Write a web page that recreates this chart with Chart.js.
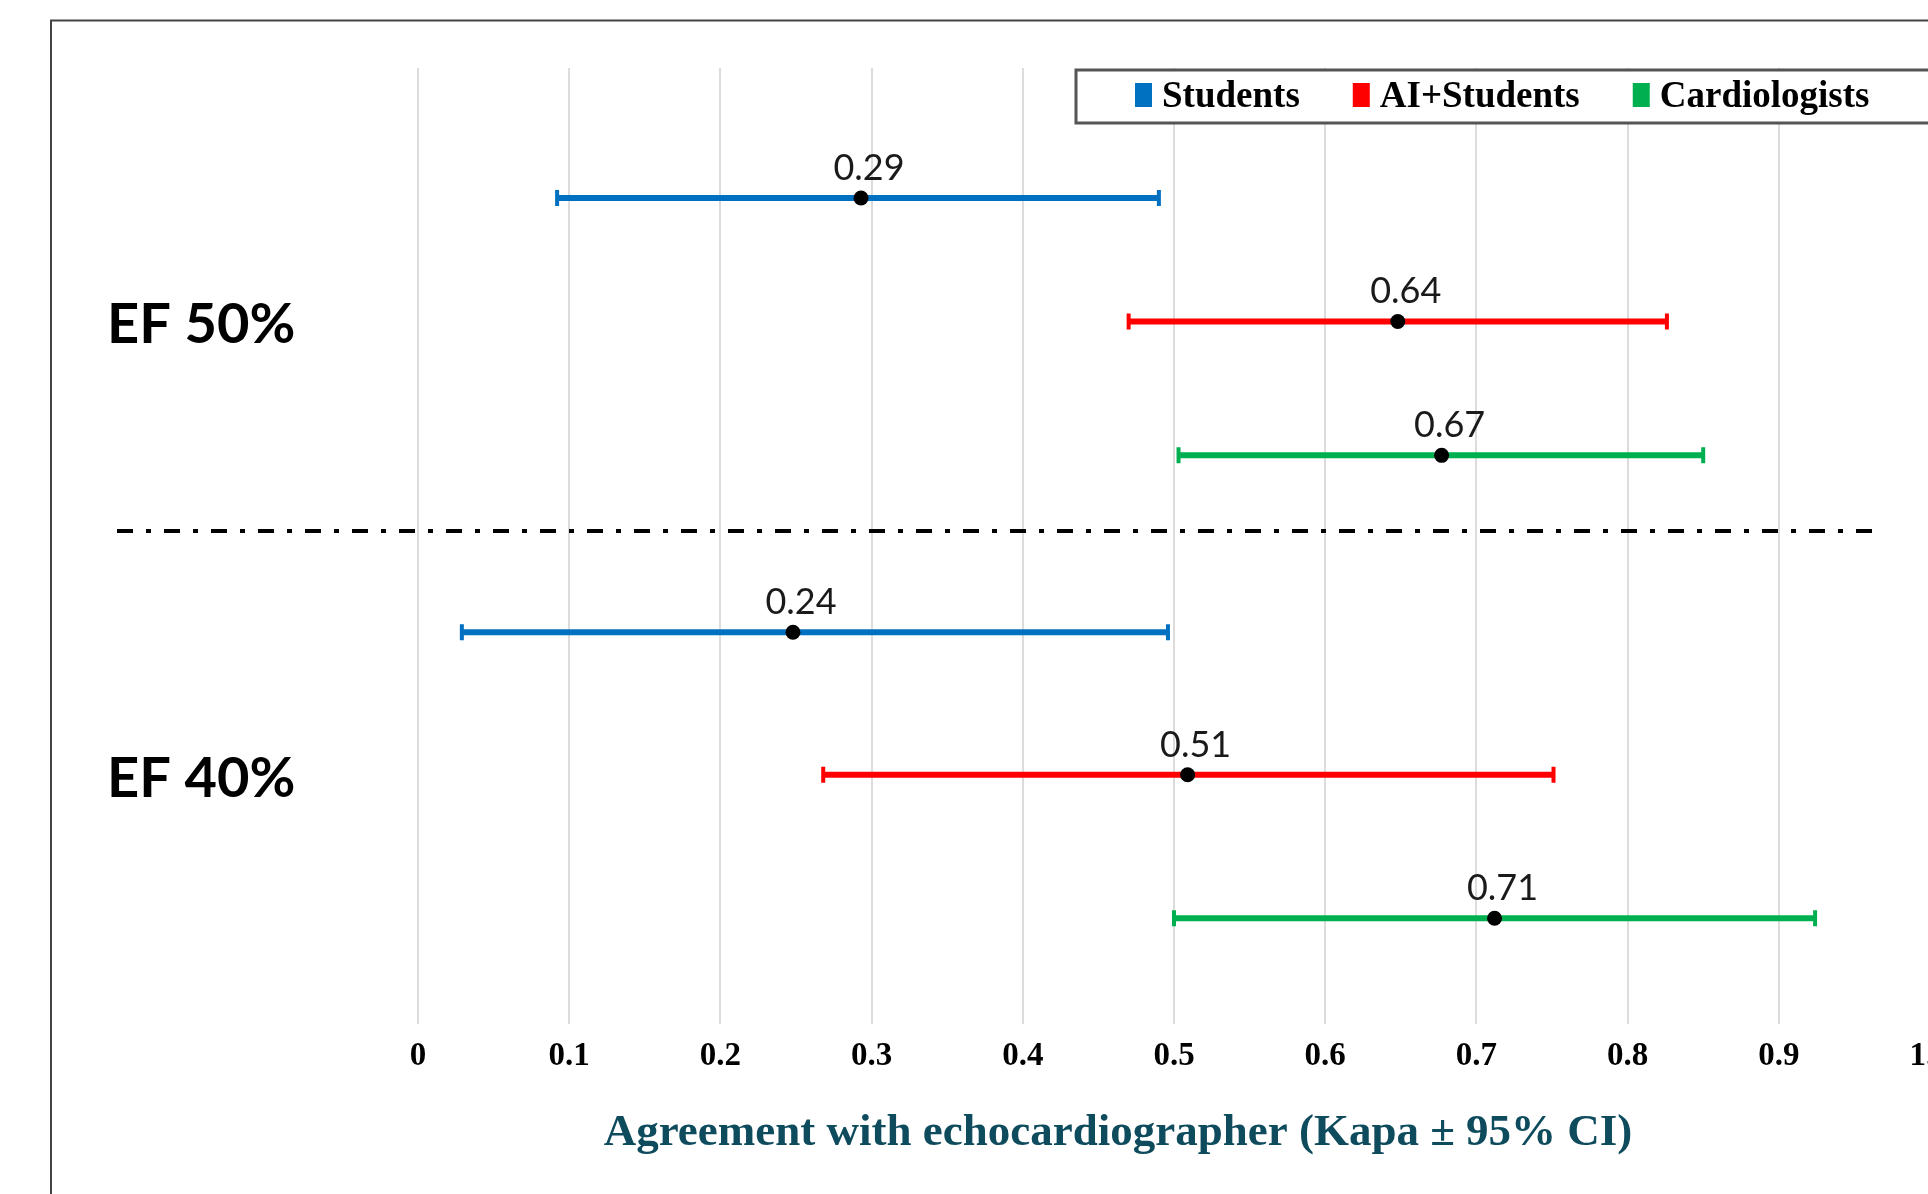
<!DOCTYPE html>
<html>
<head>
<meta charset="utf-8">
<script src="https://cdn.jsdelivr.net/npm/chart.js@4.4.1/dist/chart.umd.min.js"></script>
<style>
  html, body { margin: 0; padding: 0; background: #fff; overflow: hidden; }
  #wrap { position: absolute; left: 0; top: 0; width: 2100px; height: 1300px; }
</style>
</head>
<body>
<div id="wrap"><canvas id="chart" width="2100" height="1300"></canvas></div>
<script>
const groups = ['EF 50%', 'EF 40%'];
const seriesNames = ['Students', 'AI+Students', 'Cardiologists'];
const seriesColors = ['#0070C0', '#FF0000', '#00B050'];

// kappa estimates [EF 50%, EF 40%]
const studentsKappa = [0.293, 0.248];
const aiStudentsKappa = [0.648, 0.509];
const cardiologistsKappa = [0.677, 0.712];

// printed value labels
const studentsLabels = ['0.29', '0.24'];
const aiStudentsLabels = ['0.64', '0.51'];
const cardiologistsLabels = ['0.67', '0.71'];

// 95% CI
const studentsLow = [0.092, 0.029];
const studentsHigh = [0.490, 0.496];
const aiStudentsLow = [0.470, 0.268];
const aiStudentsHigh = [0.826, 0.751];
const cardiologistsLow = [0.503, 0.500];
const cardiologistsHigh = [0.850, 0.924];

// row positions on the hidden vertical axis (0 = top, 10 = bottom)
const studentsRow = [1.36, 5.90];
const aiStudentsRow = [2.65, 7.39];
const cardiologistsRow = [4.05, 8.89];
const separatorRow = 4.84;

const xTickLabels = ['0', '0.1', '0.2', '0.3', '0.4', '0.5', '0.6', '0.7', '0.8', '0.9', '1.0'];
const xTitle = 'Agreement with echocardiographer (Kapa \u00b1 95% CI)';

function makeSet(i, kappa, low, high, rows, labels) {
    return {
        label: seriesNames[i],
        data: kappa.map((k, j) => ({ x: k, y: rows[j], lo: low[j], hi: high[j], txt: labels[j] })),
        ciColor: seriesColors[i],
        backgroundColor: seriesColors[i],
        pointRadius: 7.5,
        pointHoverRadius: 7.5,
        pointBackgroundColor: '#000',
        pointBorderWidth: 0,
        showLine: false
    };
}

const ciPlugin = {
    id: 'ciPlugin',
    beforeDraw(chart) {
        const ctx = chart.ctx;
        ctx.save();
        ctx.fillStyle = '#fff';
        ctx.fillRect(0, 0, chart.width, chart.height);
        // outer frame
        ctx.strokeStyle = '#444';
        ctx.lineWidth = 2;
        ctx.beginPath();
        ctx.moveTo(51, chart.height);
        ctx.lineTo(51, 20.5);
        ctx.lineTo(chart.width, 20.5);
        ctx.stroke();
        ctx.restore();
    },
    beforeDatasetsDraw(chart) {
        const ctx = chart.ctx;
        const xs = chart.scales.x, ys = chart.scales.y;
        ctx.save();
        // dash-dot separator between groups
        const sy = ys.getPixelForValue(separatorRow);
        ctx.strokeStyle = '#000';
        ctx.lineWidth = 4;
        ctx.setLineDash([16, 13, 5, 13]);
        ctx.beginPath();
        ctx.moveTo(117, sy);
        ctx.lineTo(1874, sy);
        ctx.stroke();
        ctx.setLineDash([]);
        // confidence intervals
        chart.data.datasets.forEach(ds => {
            ds.data.forEach(p => {
                const y = ys.getPixelForValue(p.y);
                const x1 = xs.getPixelForValue(p.lo);
                const x2 = xs.getPixelForValue(p.hi);
                ctx.strokeStyle = ds.ciColor;
                ctx.lineWidth = 6;
                ctx.beginPath();
                ctx.moveTo(x1, y);
                ctx.lineTo(x2, y);
                ctx.stroke();
                ctx.lineWidth = 4;
                ctx.beginPath();
                ctx.moveTo(x1, y - 8);
                ctx.lineTo(x1, y + 8);
                ctx.moveTo(x2, y - 8);
                ctx.lineTo(x2, y + 8);
                ctx.stroke();
            });
        });
        ctx.restore();
    },
    afterDatasetsDraw(chart) {
        const ctx = chart.ctx;
        const xs = chart.scales.x, ys = chart.scales.y;
        ctx.save();
        ctx.font = '36px Lato';
        ctx.fillStyle = '#1a1a1a';
        ctx.textAlign = 'center';
        ctx.textBaseline = 'alphabetic';
        chart.data.datasets.forEach(ds => {
            ds.data.forEach(p => {
                ctx.fillText(p.txt, xs.getPixelForValue(p.x) + 8, ys.getPixelForValue(p.y) - 18);
            });
        });
        // group labels beside the middle row
        ctx.font = 'bold 56px Lato';
        ctx.fillStyle = '#000';
        ctx.textAlign = 'left';
        groups.forEach((g, j) => {
            ctx.fillText(g, 107, ys.getPixelForValue(aiStudentsRow[j]) + 22);
        });
        ctx.restore();
    },
    afterDraw(chart) {
        const ctx = chart.ctx;
        ctx.save();
        // axis title
        ctx.font = 'bold 45px "Liberation Serif"';
        ctx.fillStyle = '#0e4b5d';
        ctx.textAlign = 'center';
        ctx.fillText(xTitle, 1118, 1145);
        // legend box
        ctx.fillStyle = '#fff';
        ctx.fillRect(1076, 70, chart.width - 1076, 53);
        ctx.strokeStyle = '#555';
        ctx.lineWidth = 3;
        ctx.strokeRect(1076, 70, chart.width, 53);
        ctx.font = 'bold 37px "Liberation Serif"';
        ctx.textAlign = 'left';
        let x = 1135;
        seriesNames.forEach((name, i) => {
            ctx.fillStyle = seriesColors[i];
            ctx.fillRect(x, 83, 17, 24);
            ctx.fillStyle = '#000';
            ctx.fillText(name, x + 27, 107);
            x += 27 + ctx.measureText(name).width + 53;
        });
        ctx.restore();
    }
};

new Chart(document.getElementById('chart'), {
    type: 'scatter',
    plugins: [ciPlugin],
    data: {
        datasets: [
            makeSet(0, studentsKappa, studentsLow, studentsHigh, studentsRow, studentsLabels),
            makeSet(1, aiStudentsKappa, aiStudentsLow, aiStudentsHigh, aiStudentsRow, aiStudentsLabels),
            makeSet(2, cardiologistsKappa, cardiologistsLow, cardiologistsHigh, cardiologistsRow, cardiologistsLabels)
        ]
    },
    options: {
        responsive: false,
        animation: false,
        layout: { padding: { left: 418, right: 170, top: 68, bottom: 212 } },
        plugins: {
            legend: { display: false },
            tooltip: { enabled: false }
        },
        scales: {
            x: {
                type: 'linear',
                min: 0,
                max: 1,
                ticks: {
                    stepSize: 0.1,
                    padding: 12,
                    color: '#000',
                    font: { family: 'Liberation Serif', size: 33, weight: 'bold' },
                    callback: (v, i) => xTickLabels[i]
                },
                grid: { color: '#dcdcdc', lineWidth: 2, drawTicks: false },
                border: { display: false }
            },
            y: {
                type: 'linear',
                display: false,
                min: 0,
                max: 10,
                reverse: true
            }
        }
    }
});
</script>
</body>
</html>
